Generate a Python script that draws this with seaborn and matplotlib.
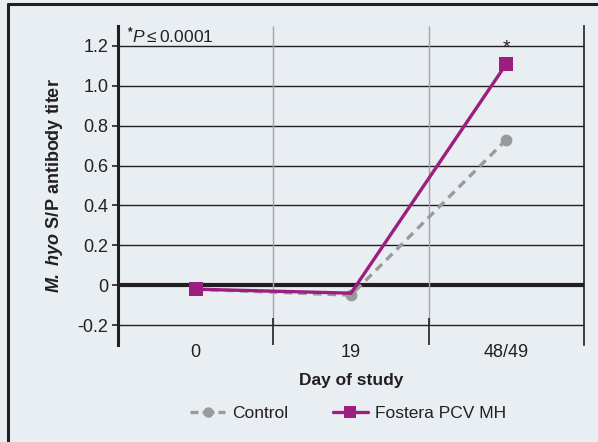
import matplotlib
matplotlib.use("Agg")
import matplotlib.pyplot as plt
from matplotlib.lines import Line2D
import seaborn as sns
import pandas as pd

# Data
days = ["0", "19", "48/49"]
control = [-0.02, -0.05, 0.73]
fostera = [-0.02, -0.04, 1.11]
series_names = ["Control", "Fostera PCV MH"]
y_ticks = [-0.2, 0, 0.2, 0.4, 0.6, 0.8, 1.0, 1.2]
y_tick_labels = ["-0.2", "0", "0.2", "0.4", "0.6", "0.8", "1.0", "1.2"]

BG = "#e9eef2"
PURPLE = "#9c1f80"
GREY = "#9a9a9c"
INK = "#231f20"
FONT = "Liberation Sans"

df = pd.DataFrame({
    "day": days * 2,
    "titer": control + fostera,
    "group": [series_names[0]] * 3 + [series_names[1]] * 3,
})

sns.set_theme(style="white")
plt.rcParams["font.family"] = [FONT, "DejaVu Sans"]
plt.rcParams["mathtext.fontset"] = "custom"
plt.rcParams["mathtext.rm"] = FONT
plt.rcParams["mathtext.it"] = FONT + ":italic"
plt.rcParams["mathtext.bf"] = FONT + ":bold"
plt.rcParams["mathtext.bfit"] = FONT + ":italic:bold"

fig = plt.figure(figsize=(5.98, 4.42), dpi=100, facecolor=BG)
ax = fig.add_axes([118 / 598, 1 - 345 / 442, 466 / 598, 319 / 442])
ax.set_facecolor(BG)

# gridlines first
for y in y_ticks:
    ax.axhline(y, color=INK, lw=1.0, zorder=1)
ax.axhline(0, color=INK, lw=3.0, zorder=1)
ax.vlines([0.5, 1.5], -0.2, 1.3, color="#a6a6a8", lw=1.0, zorder=1)
ax.vlines([0.5, 1.5], -0.3, -0.165, color=INK, lw=1.2, zorder=1)

sns.lineplot(
    data=df, x="day", y="titer", hue="group", style="group",
    palette={series_names[0]: GREY, series_names[1]: PURPLE},
    markers={series_names[0]: "o", series_names[1]: "s"},
    dashes={series_names[0]: (2.6, 1.8), series_names[1]: ""},
    markersize=10, markeredgewidth=0, linewidth=2.4,
    legend=False, ax=ax, zorder=3,
)
for ln in ax.get_lines():
    if ln.get_marker() == "o":
        ln.set_markersize(8.5)
        ln.set_zorder(2.5)
    elif ln.get_marker() == "s":
        # the square at day 19 sits hidden under the control circle
        ln.set_markevery([0, 2])
        ln.set_zorder(3)

ax.set_xlim(-0.5, 2.5)
ax.set_ylim(-0.3, 1.3)
ax.set_yticks(y_ticks)
ax.set_yticklabels(y_tick_labels)
ax.tick_params(axis="y", direction="out", length=4, width=1.2, color=INK,
               labelsize=13, labelcolor=INK, pad=3, left=True)
ax.tick_params(axis="x", length=0, labelsize=13, labelcolor=INK, pad=-1)

for side in ["top", "bottom"]:
    ax.spines[side].set_visible(False)
ax.spines["left"].set_color(INK)
ax.spines["left"].set_linewidth(2.2)
ax.spines["right"].set_color(INK)
ax.spines["right"].set_linewidth(1.2)

ax.set_xlabel("Day of study", fontsize=12.5, fontweight="bold", color=INK, labelpad=9)
ax.set_ylabel(r"$\mathbfit{M.\ hyo}$ S/P antibody titer", fontsize=13,
              fontweight="bold", color=INK, labelpad=9)

ax.text(-0.44, 1.305, r"$^{\mathbf{*}}\mathit{P}$$\leq$0.0001", fontsize=12.5, color=INK,
        ha="left", va="top")
ax.text(2, fostera[2] + 0.035, "*", fontsize=14, color=INK, ha="center", va="bottom")

handles = [
    Line2D([], [], color=GREY, lw=2.4, ls=(0, (2.4, 1.2, 3.6, 1.2, 2.4, 6)),
           marker="o", markersize=7.5, markeredgewidth=0),
    Line2D([], [], color=PURPLE, lw=2.4, marker="s", markersize=8.5,
           markeredgewidth=0),
]
fig.legend(handles, series_names, loc="center", bbox_to_anchor=(0.582, 0.064),
           ncol=2, frameon=False, fontsize=12.5, handlelength=2.0,
           columnspacing=2.6, handletextpad=0.4, labelcolor=INK)

# partial outer frame (top and left edges)
fig.add_artist(Line2D([8 / 598, 1], [1 - 4 / 442] * 2, color=INK, lw=2.2,
                      transform=fig.transFigure))
fig.add_artist(Line2D([8 / 598] * 2, [0, 1 - 4 / 442], color=INK, lw=2.2,
                      transform=fig.transFigure))

fig.savefig("out.png", dpi=100, facecolor=BG)
